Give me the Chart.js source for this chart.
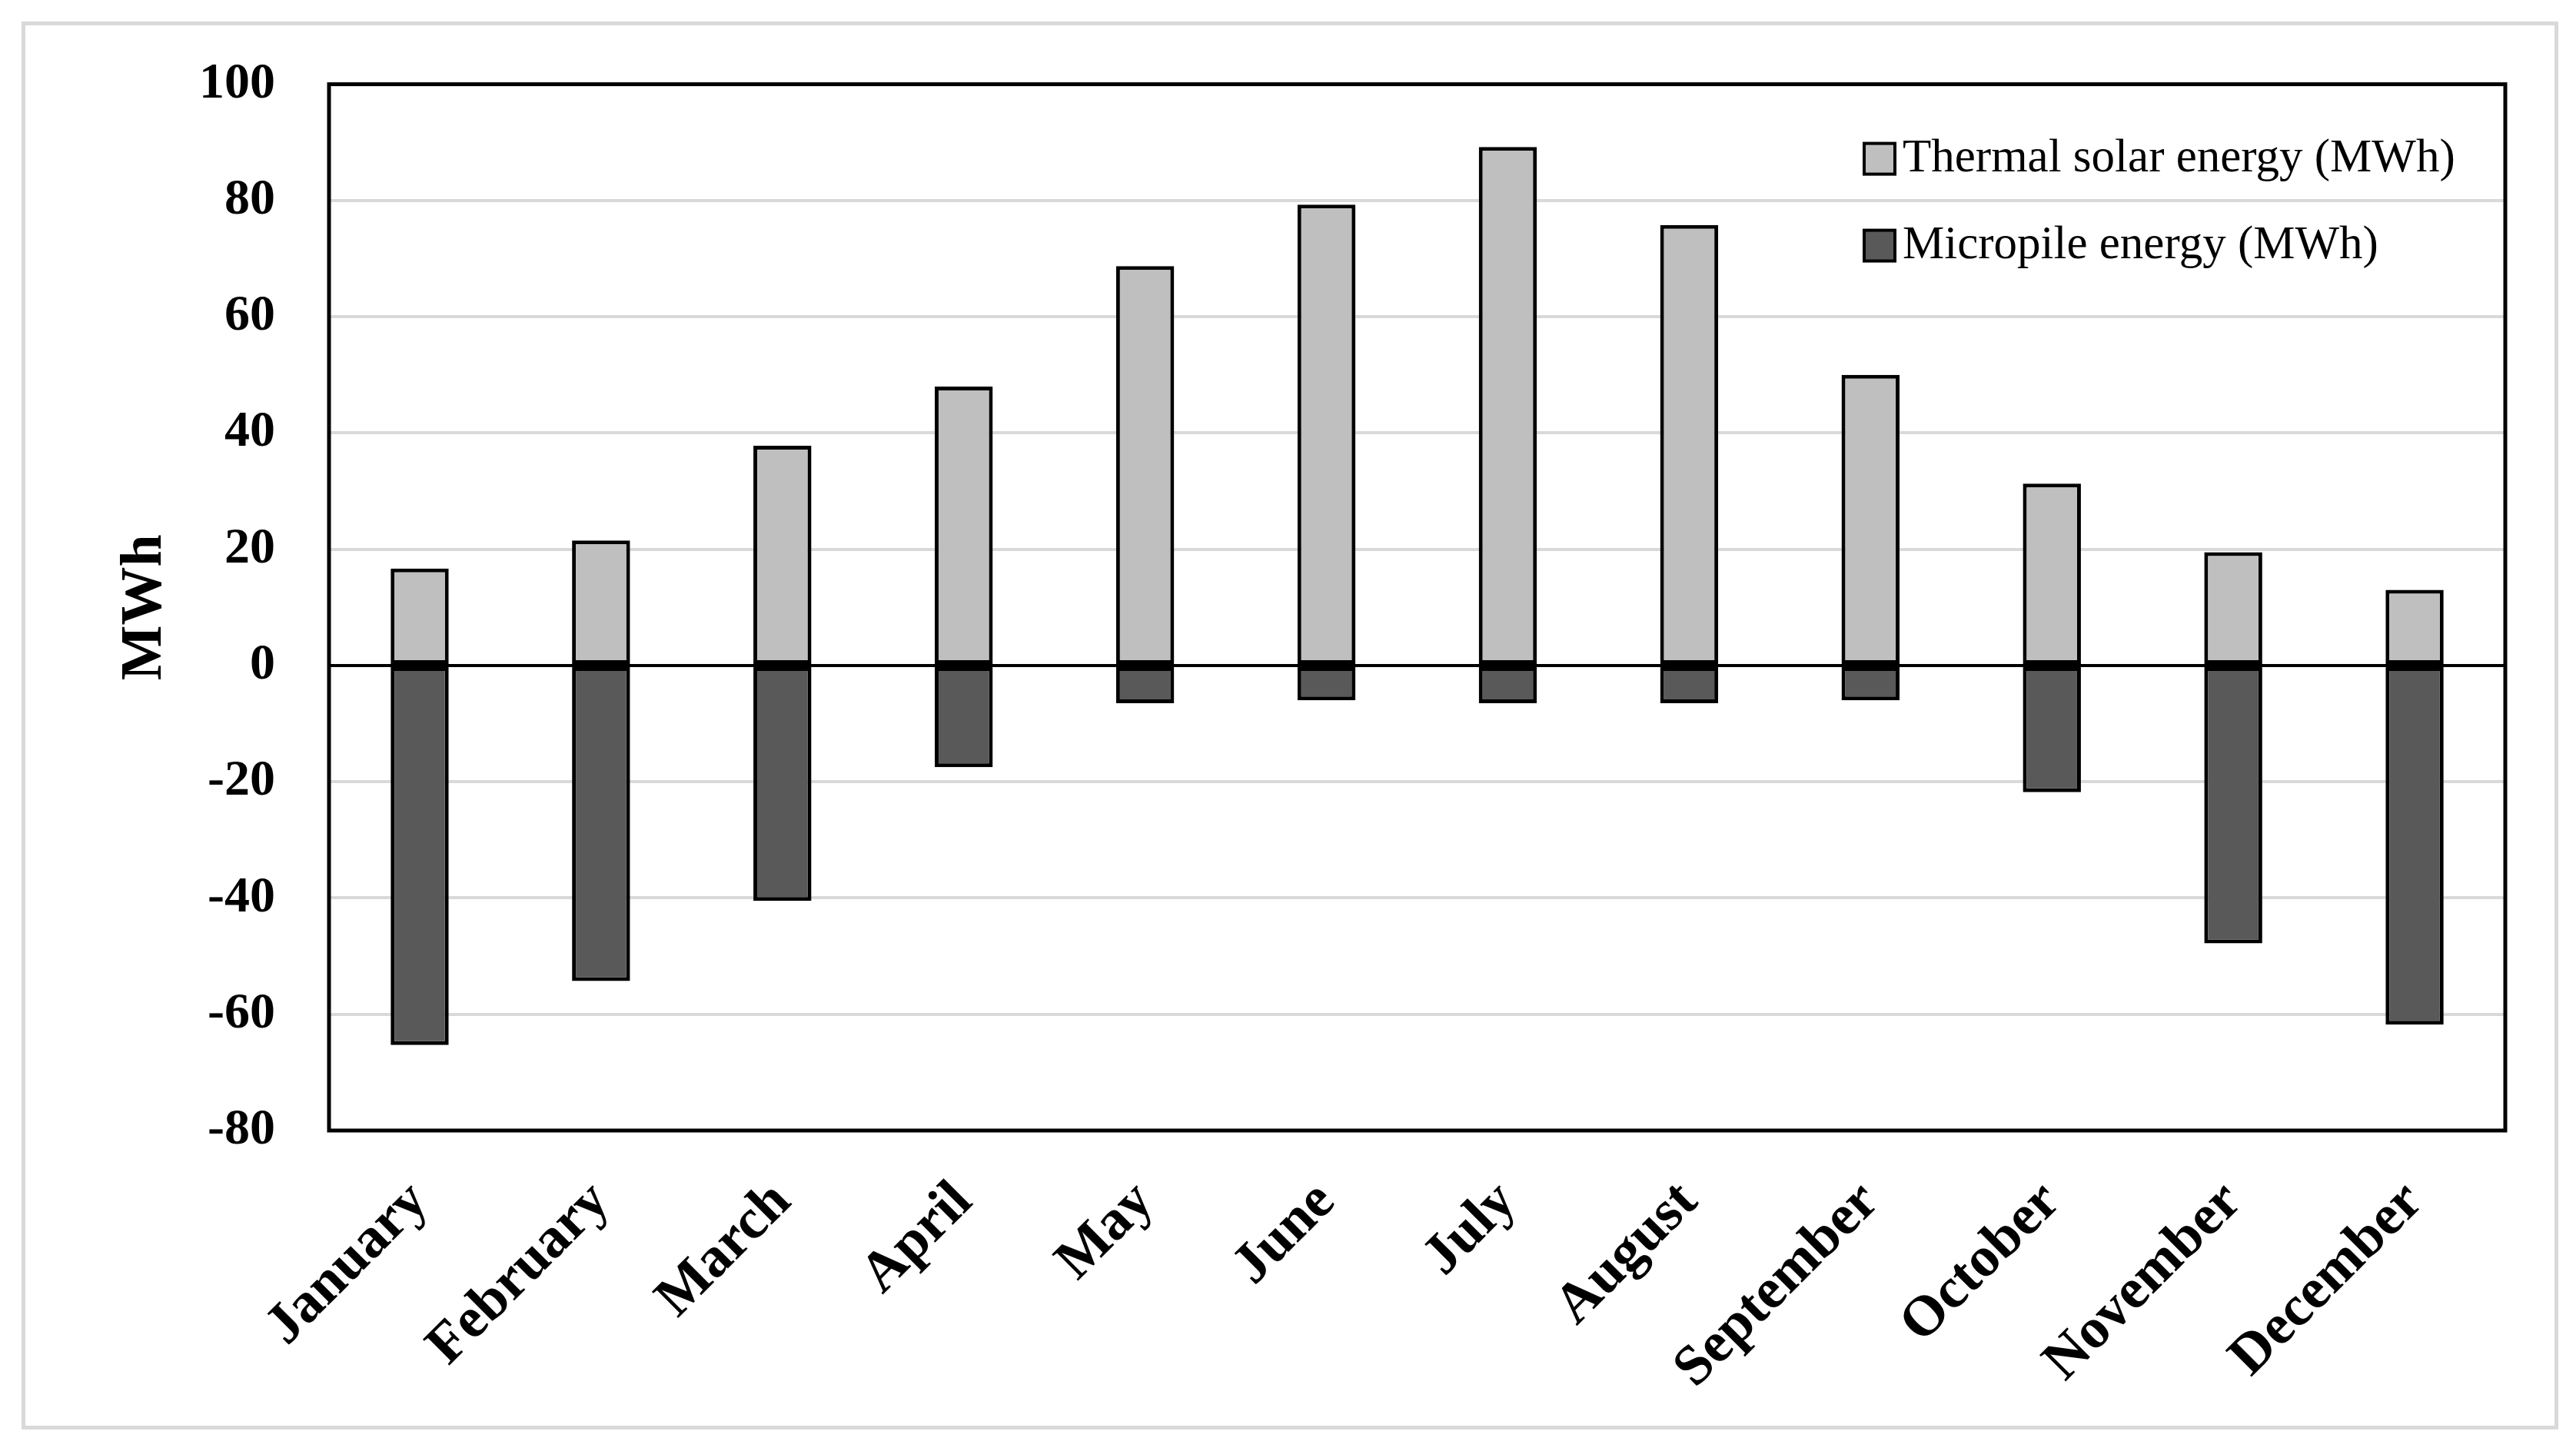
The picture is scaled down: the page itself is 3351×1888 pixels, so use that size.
<!DOCTYPE html>
<html>
<head>
<meta charset="utf-8">
<script src="https://cdn.jsdelivr.net/npm/chart.js@4.4.1/dist/chart.umd.min.js"></script>
<style>
    body { margin: 0; background: #fff; }
    #frame { position: absolute; left: 28px; top: 28px; width: 3290px; height: 1822px; border: 5px solid #d9d9d9; }
    #myChart { position: absolute; left: 0; top: 0; }
</style>
</head>
<body>
<div id="frame"></div>
<canvas id="myChart" width="3351" height="1888"></canvas>
<script>
var months = ['January', 'February', 'March', 'April', 'May', 'June', 'July', 'August', 'September', 'October', 'November', 'December'];
var thermalSolar = [16.7, 21.5, 37.8, 48, 68.7, 79.3, 89.2, 75.8, 50, 31.3, 19.5, 13];
var micropile = [-65.3, -54.3, -40.5, -17.5, -6.5, -6, -6.5, -6.5, -6, -21.8, -47.8, -61.8];
var yMin = -80, yMax = 100, yStep = 20;

// legend drawn inside the plot, top right
const legendInside = {
    id: 'legendInside',
    afterDraw(chart) {
        const ctx = chart.ctx, area = chart.chartArea;
        ctx.save();
        ctx.font = '61px "Liberation Serif"';
        ctx.textBaseline = 'middle';
        chart.data.datasets.forEach(function (ds, i) {
            var x = area.right - 834;
            var y = area.top + 97 + i * 113;
            ctx.fillStyle = ds.backgroundColor;
            ctx.fillRect(x, y - 20, 40, 40);
            ctx.lineWidth = 4;
            ctx.strokeStyle = '#000';
            ctx.strokeRect(x, y - 20, 40, 40);
            ctx.fillStyle = '#000';
            ctx.fillText(ds.label, x + 50, y);
        });
        ctx.restore();
    }
};

// black box round the plot area
const plotFrame = {
    id: 'plotFrame',
    afterDatasetsDraw(chart) {
        const ctx = chart.ctx, a = chart.chartArea;
        ctx.save();
        ctx.lineWidth = 5;
        ctx.strokeStyle = '#000';
        ctx.strokeRect(a.left, a.top, a.right - a.left, a.bottom - a.top);
        ctx.restore();
    }
};

let myChart = document.getElementById("myChart").getContext('2d');

const barChart = new Chart(myChart, {
    type: 'bar',
    data: {
        labels: months,
        datasets: [{
            label: 'Thermal solar energy (MWh)',
            data: thermalSolar,
            backgroundColor: '#bfbfbf',
            borderColor: '#000',
            borderWidth: 5,
            borderSkipped: false
        }, {
            label: 'Micropile energy (MWh)',
            data: micropile,
            backgroundColor: '#595959',
            borderColor: '#000',
            borderWidth: 5,
            borderSkipped: false
        }]
    },
    options: {
        responsive: false,
        animation: false,
        devicePixelRatio: 1,
        layout: { padding: { top: 101, right: 92, left: 0, bottom: 0 } },
        datasets: { bar: { categoryPercentage: 1, barPercentage: 0.32 } },
        scales: {
            x: {
                stacked: true,
                grid: { display: false, drawTicks: false },
                border: { display: false },
                ticks: {
                    autoSkip: false,
                    maxRotation: 45,
                    minRotation: 45,
                    padding: 50,
                    color: '#000',
                    font: { family: 'Liberation Serif', weight: 'bold', size: 74 }
                },
                afterFit: function (scale) { scale.height = 417; }
            },
            y: {
                stacked: true,
                min: yMin,
                max: yMax,
                ticks: {
                    stepSize: yStep,
                    padding: 70,
                    color: '#000',
                    font: { family: 'Liberation Serif', weight: 'bold', size: 66 }
                },
                grid: {
                    drawTicks: false,
                    lineWidth: 4,
                    color: function (c) { return c.tick && c.tick.value === 0 ? '#000' : '#d9d9d9'; }
                },
                border: { display: false },
                title: {
                    display: true,
                    text: 'MWh',
                    color: '#000',
                    padding: { top: 144, bottom: 0 },
                    font: { family: 'Liberation Serif', weight: 'bold', size: 76 }
                },
                afterFit: function (scale) { scale.width = 428; }
            }
        },
        plugins: {
            legend: { display: false },
            tooltip: { enabled: false }
        }
    },
    plugins: [legendInside, plotFrame]
});
</script>
</body>
</html>
